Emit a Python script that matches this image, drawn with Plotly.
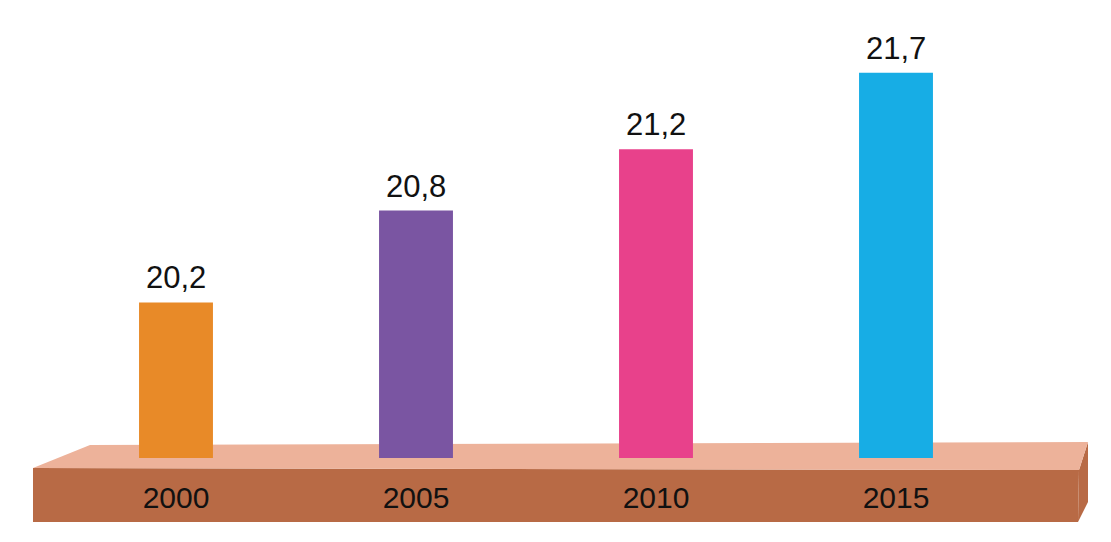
import plotly.graph_objects as go

years = ["2000", "2005", "2010", "2015"]
values = [20.2, 20.8, 21.2, 21.7]
bar_colors = ["#E88A28", "#7A55A2", "#E8418B", "#17ADE5"]

W, H = 1111, 542
ML, MR, MT, MB = 56, 95, 40, 84
PW, PH = W - ML - MR, H - MT - MB

def px(x):
    return (x - ML) / PW

def py(y):
    return (H - MB - y) / PH

def path(pts):
    return "M " + " L ".join(f"{px(x):.5f},{py(y):.5f}" for x, y in pts) + " Z"

top_face = [(33, 468), (90, 445), (1088, 442), (1079, 470)]
front_face = [(33, 468), (1079, 470), (1078, 522), (33, 522)]
side_face = [(1079, 470), (1088, 442), (1088, 502), (1078, 522)]

FONT = "Liberation Sans, Arial, sans-serif"

fig = go.Figure()
fig.add_trace(go.Bar(
    x=years, y=values,
    marker=dict(color=bar_colors, line=dict(width=0)),
    hoverinfo="skip",
))

annotations = []
for i, v in enumerate(values):
    annotations.append(dict(x=i, y=v, xref="x", yref="y", text=f"{v:.1f}".replace(".", ","),
                            showarrow=False, yanchor="bottom", yshift=5,
                            font=dict(size=31, color="#111111", family=FONT)))

shapes = []
for pts, col in [(front_face, "#B86A45"), (side_face, "#B86A45"), (top_face, "#EDB29A")]:
    shapes.append(dict(type="path", xref="paper", yref="paper", path=path(pts),
                       fillcolor=col, line=dict(width=0), layer="below"))

fig.update_layout(
    width=W, height=H,
    margin=dict(l=ML, r=MR, t=MT, b=MB, pad=0),
    paper_bgcolor="white", plot_bgcolor="rgba(0,0,0,0)",
    bargap=0.692,
    showlegend=False,
    shapes=shapes,
    annotations=annotations,
    font=dict(family=FONT, color="#111111"),
)
fig.update_xaxes(type="category", range=[-0.5, len(years) - 0.5],
                 showline=False, showgrid=False, zeroline=False, ticks="",
                 tickfont=dict(size=30, color="#111111"), ticklabelstandoff=19)
fig.update_yaxes(visible=False, range=[19.184, 19.184 + PH / 153.1])

fig.write_html("out.html")
